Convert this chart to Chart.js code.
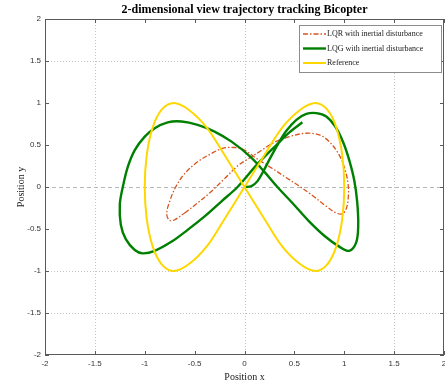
<!DOCTYPE html>
<html>
<head>
<meta charset="utf-8">
<script src="https://cdn.jsdelivr.net/npm/chart.js@4.4.0/dist/chart.umd.min.js"></script>
<style>
    html, body { margin: 0; padding: 0; background: #fff; }
    canvas { display: block; }
</style>
</head>
<body>
<canvas id="traj-chart" width="445" height="385"></canvas>
<script>
const seriesLabels = ['LQR with inertial disturbance', 'LQG with inertial disturbance', 'Reference'];

const xTicks = [-2, -1.5, -1, -0.5, 0, 0.5, 1, 1.5, 2];
const yTicks = [-2, -1.5, -1, -0.5, 0, 0.5, 1, 1.5, 2];
const xGridValues = [-1.5, 0, 1.5];
const yGridValues = [1.5, -1, -1.5];
const yDashedValues = [0];

// LQR (dash-dot, red)
const lqrX = [-0.60, -0.47, -0.33, -0.20, -0.07, 0.03, 0.15, 0.28, 0.45, 0.62, 0.75, 0.85, 0.95, 1.01, 1.04,
    1.04, 1.02, 0.98, 0.92, 0.82, 0.68, 0.55, 0.42, 0.28, 0.12, 0.00, -0.10, -0.22, -0.33, -0.47, -0.60,
    -0.69, -0.75, -0.78, -0.75, -0.70, -0.60];
const lqrY = [-0.31, -0.19, -0.05, 0.10, 0.25, 0.33, 0.42, 0.52, 0.60, 0.64, 0.62, 0.54, 0.38, 0.20, 0.02,
    -0.13, -0.26, -0.32, -0.31, -0.23, -0.10, 0.01, 0.11, 0.22, 0.34, 0.44, 0.47, 0.46, 0.40, 0.30, 0.16,
    0.00, -0.17, -0.32, -0.40, -0.39, -0.31];

// LQG (solid, green)
const lqgX = [0.00, 0.07, 0.13, 0.19, 0.26, 0.34, 0.42, 0.52, 0.62, 0.72, 0.82, 0.91, 0.99, 1.05, 1.10,
    1.13, 1.14, 1.12, 1.05, 0.95, 0.80, 0.64, 0.48, 0.33, 0.20, 0.06, -0.13, -0.30, -0.47, -0.63, -0.77,
    -0.90, -1.00, -1.10, -1.17, -1.22, -1.25, -1.24, -1.19, -1.10, -1.02, -0.90, -0.73, -0.57, -0.40,
    -0.23, -0.07, 0.12, 0.32, 0.45, 0.58];
const lqgY = [0.00, 0.01, 0.07, 0.19, 0.35, 0.52, 0.67, 0.80, 0.87, 0.88, 0.84, 0.72, 0.53, 0.32, 0.08,
    -0.18, -0.46, -0.66, -0.76, -0.71, -0.58, -0.40, -0.19, 0.00, 0.18, 0.36, 0.54, 0.66, 0.74, 0.78, 0.77,
    0.70, 0.60, 0.44, 0.24, 0.00, -0.21, -0.45, -0.62, -0.75, -0.79, -0.76, -0.65, -0.51, -0.35,
    -0.17, 0.00, 0.26, 0.50, 0.65, 0.77];

// Reference (solid, yellow)
const refX = [0.00, 0.20, 0.38, 0.56, 0.71, 0.83, 0.92, 0.98, 1.00, 0.98, 0.92, 0.83, 0.71, 0.56, 0.38, 0.20,
    0.00, -0.20, -0.38, -0.56, -0.71, -0.83, -0.92, -0.98, -1.00, -0.98, -0.92, -0.83, -0.71, -0.56, -0.38, -0.20, 0.00];
const refY = [0.00, 0.38, 0.71, 0.92, 1.00, 0.92, 0.71, 0.38, 0.00, -0.38, -0.71, -0.92, -1.00, -0.92, -0.71, -0.38,
    0.00, 0.38, 0.71, 0.92, 1.00, 0.92, 0.71, 0.38, 0.00, -0.38, -0.71, -0.92, -1.00, -0.92, -0.71, -0.38, 0.00];

function toPoints(xs, ys) {
    return xs.map((x, i) => ({ x: x, y: ys[i] }));
}

const SERIF = '"Liberation Serif", "DejaVu Serif", serif';
const SANS = '"Liberation Sans", Arial, sans-serif';

const framePlugin = {
    id: 'frame',
    beforeDatasetsDraw(chart) {
        const { ctx, chartArea: a, scales: { x, y } } = chart;
        ctx.save();
        ctx.strokeStyle = '#c4c4c4';
        ctx.lineWidth = 1;
        ctx.setLineDash([1, 2]);
        xGridValues.forEach(v => {
            const px = Math.round(x.getPixelForValue(v)) + 0.5;
            ctx.beginPath(); ctx.moveTo(px, a.top); ctx.lineTo(px, a.bottom); ctx.stroke();
        });
        yGridValues.forEach(v => {
            const py = Math.round(y.getPixelForValue(v)) + 0.5;
            ctx.beginPath(); ctx.moveTo(a.left, py); ctx.lineTo(a.right, py); ctx.stroke();
        });
        ctx.setLineDash([4, 3]);
        ctx.strokeStyle = '#b8b8b8';
        yDashedValues.forEach(v => {
            const py = Math.round(y.getPixelForValue(v)) + 0.5;
            ctx.beginPath(); ctx.moveTo(a.left, py); ctx.lineTo(a.right, py); ctx.stroke();
        });
        ctx.restore();
    },
    afterDatasetsDraw(chart) {
        const { ctx, chartArea: a, scales: { x, y } } = chart;
        ctx.save();
        ctx.strokeStyle = '#595959';
        ctx.lineWidth = 1;
        ctx.setLineDash([]);
        ctx.strokeRect(a.left + 0.5, a.top + 0.5, a.right - a.left - 1, a.bottom - a.top - 1);
        const tl = 4;
        ctx.beginPath();
        xTicks.forEach(v => {
            const px = Math.round(x.getPixelForValue(v)) + 0.5;
            ctx.moveTo(px, a.bottom); ctx.lineTo(px, a.bottom - tl);
            ctx.moveTo(px, a.top); ctx.lineTo(px, a.top + tl);
        });
        yTicks.forEach(v => {
            const py = Math.round(y.getPixelForValue(v)) + 0.5;
            ctx.moveTo(a.left, py); ctx.lineTo(a.left + tl, py);
            ctx.moveTo(a.right, py); ctx.lineTo(a.right - tl, py);
        });
        ctx.stroke();

        // legend box
        const bx = 299, by = 25, bw = 142, bh = 47;
        ctx.fillStyle = '#ffffff';
        ctx.fillRect(bx, by, bw, bh);
        ctx.strokeStyle = '#8c8c8c';
        ctx.strokeRect(bx + 0.5, by + 0.5, bw, bh);
        ctx.font = '8px ' + SERIF;
        ctx.textBaseline = 'middle';
        ctx.textAlign = 'left';
        chart.data.datasets.forEach((ds, i) => {
            const ry = by + 9 + i * 14.5;
            ctx.strokeStyle = ds.borderColor;
            ctx.lineWidth = ds.borderWidth;
            ctx.setLineDash(ds.borderDash || []);
            ctx.beginPath(); ctx.moveTo(303, ry); ctx.lineTo(326, ry); ctx.stroke();
            ctx.setLineDash([]);
            ctx.fillStyle = '#1a1a1a';
            ctx.fillText(ds.label, 327, ry);
        });
        ctx.restore();
    },
    afterDraw(chart) {
        const { ctx, chartArea: a } = chart;
        ctx.save();
        ctx.font = 'bold 12px ' + SERIF;
        ctx.fillStyle = '#000';
        ctx.textAlign = 'center';
        ctx.textBaseline = 'middle';
        ctx.fillText('2-dimensional view trajectory tracking Bicopter', (a.left + a.right) / 2, 10);
        ctx.restore();
    }
};

function tickSetter(values) {
    return function (scale) {
        scale.ticks = values.map(v => ({ value: v }));
    };
}

const chart = new Chart(document.getElementById('traj-chart').getContext('2d'), {
    type: 'scatter',
    data: {
        datasets: [
            {
                label: seriesLabels[0],
                data: toPoints(lqrX, lqrY),
                borderColor: '#d9541e',
                borderWidth: 1.3,
                borderDash: [5, 2, 1.5, 2],
                showLine: true,
                pointRadius: 0,
                tension: 0.35,
                order: 2
            },
            {
                label: seriesLabels[1],
                data: toPoints(lqgX, lqgY),
                borderColor: '#008000',
                borderWidth: 2.4,
                showLine: true,
                pointRadius: 0,
                tension: 0.35,
                order: 1
            },
            {
                label: seriesLabels[2],
                data: toPoints(refX, refY),
                borderColor: '#ffd700',
                borderWidth: 2,
                showLine: true,
                pointRadius: 0,
                tension: 0.35,
                order: 0
            }
        ]
    },
    options: {
        responsive: false,
        animation: false,
        devicePixelRatio: 1,
        layout: { padding: { top: 19, right: 1, left: 0, bottom: 0 } },
        plugins: {
            legend: { display: false },
            title: { display: false },
            tooltip: { enabled: false }
        },
        scales: {
            x: {
                type: 'linear',
                min: -2,
                max: 2,
                afterBuildTicks: tickSetter(xTicks),
                afterFit: scale => {
                    scale.height = 30;
                    scale.paddingLeft = 0;
                    scale.paddingRight = 0;
                },
                grid: { display: false, drawTicks: false },
                border: { display: false },
                ticks: {
                    padding: 4,
                    color: '#333',
                    font: { family: SANS, size: 8 },
                    callback: v => String(v)
                },
                title: {
                    display: true,
                    text: 'Position x',
                    color: '#1a1a1a',
                    font: { family: SERIF, size: 10 },
                    padding: { top: 0, bottom: 2 }
                }
            },
            y: {
                type: 'linear',
                min: -2,
                max: 2,
                afterBuildTicks: tickSetter(yTicks),
                afterFit: scale => {
                    scale.width = 45;
                    scale.paddingTop = 0;
                    scale.paddingBottom = 0;
                },
                grid: { display: false, drawTicks: false },
                border: { display: false },
                ticks: {
                    padding: 4,
                    color: '#333',
                    font: { family: SANS, size: 8 },
                    callback: v => String(v)
                },
                title: {
                    display: true,
                    text: 'Position y',
                    color: '#1a1a1a',
                    font: { family: SERIF, size: 10 },
                    padding: { top: 15, bottom: 0 }
                }
            }
        }
    },
    plugins: [framePlugin]
});
</script>
</body>
</html>
